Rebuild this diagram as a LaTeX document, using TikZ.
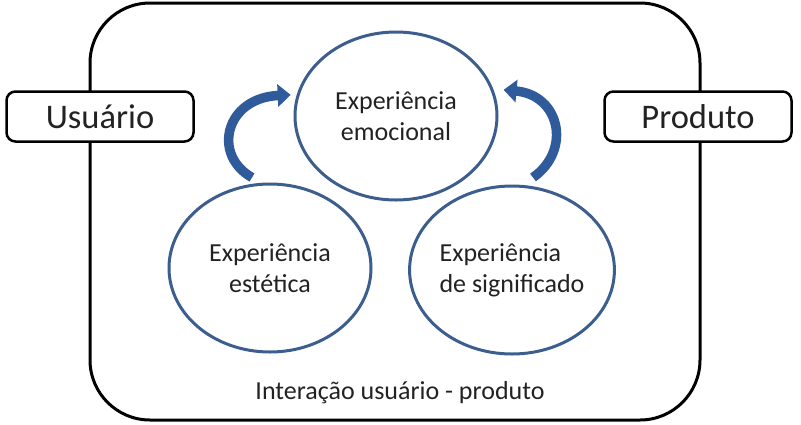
\documentclass[tikz,border=0pt]{standalone}
\usepackage{fontspec}
\setmainfont{Carlito}
\usetikzlibrary{positioning,shapes.geometric,arrows.meta}
\definecolor{ringblue}{RGB}{60,94,142}
\definecolor{turnblue}{RGB}{47,91,155}
\definecolor{inkgray}{RGB}{34,34,34}

\begin{document}
\begin{tikzpicture}[x=1pt,y=-1pt,
        exp/.style={ellipse,draw=ringblue,line width=3pt,
                    minimum width=202pt,minimum height=168pt,
                    align=center,inner sep=0pt},
        actor/.style={draw,rounded corners=9pt,line width=2.5pt,fill=white,
                      minimum width=187pt,minimum height=50pt,
                      font=\fontsize{34.5}{40}\selectfont},
        turn/.style={turnblue,line width=9.5pt,
                     -{Triangle[width=22pt,length=13pt]}}]
  \tikzstyle{every node}=[text=inkgray,font=\fontsize{26}{31}\selectfont]
  \useasboundingbox (0,0) rectangle (801,424);
     \draw[line width=3pt,rounded corners=60pt] (90,3) rectangle (700,420);
     \node[actor] (usuario) at (100,116.5) {Usuário};
     \node[actor] (produto) at (698,116.5) {Produto};
     \node[exp] (emocional) at (396,116) {Experiência\\emocional};
     \node[exp] (estetica) at (270,268) {Experiência\\estética};
     \node[exp,align=left] (significado) at (512,270) {Experiência\\de significado};
     \node (interacao) at (400,393) {Interação usuário - produto};
     \draw[turn] ([xshift=-18pt,yshift=5pt]estetica.north)
        .. controls (212,155) and (225,98) .. ([xshift=-6pt]emocional.168);
     \draw[turn] ([xshift=21pt,yshift=7pt]significado.north)
        .. controls (572,150) and (560,95) .. ([xshift=10pt]emocional.15);
\end{tikzpicture}
\end{document}
